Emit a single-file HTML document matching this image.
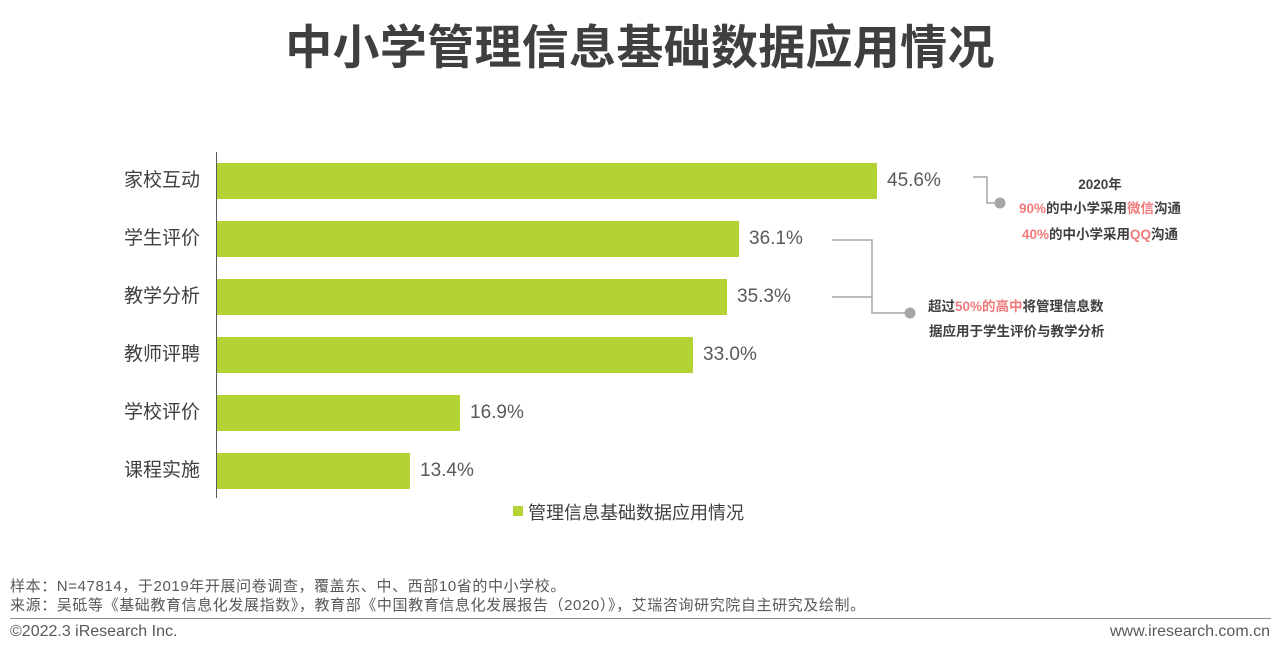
<!DOCTYPE html>
<html><head><meta charset="utf-8"><style>
body{margin:0;width:1280px;height:660px;background:#fff;font-family:"Liberation Sans","Noto Sans CJK SC",sans-serif;position:relative;overflow:hidden;color:#595959}
.a{position:absolute;white-space:nowrap}
.bar{position:absolute;left:217px;height:36px;background:#b3d335}
.cat{position:absolute;right:1080px;font-size:19px;color:#404040;line-height:36px}
.val{position:absolute;font-size:19px;color:#595959;line-height:36px}
.p{color:#f07a7c}
.n{font-size:13.5px;font-weight:bold;color:#404040}
.f{font-size:15px;letter-spacing:0.6px}
</style></head><body>
<div class="a" style="left:0;width:1280px;text-align:center;top:9px;font-size:47px;font-weight:bold;color:#3f3f3f;letter-spacing:0.3px">中小学管理信息基础数据应用情况</div>
<div class="a" style="left:216px;top:152px;width:1px;height:346px;background:#595959"></div>

<div class="bar" style="top:163px;width:660px"></div><div class="cat" style="top:163px">家校互动</div><div class="val" style="top:163px;left:887px">45.6%</div>
<div class="bar" style="top:221px;width:522px"></div><div class="cat" style="top:221px">学生评价</div><div class="val" style="top:221px;left:749px">36.1%</div>
<div class="bar" style="top:279px;width:510px"></div><div class="cat" style="top:279px">教学分析</div><div class="val" style="top:279px;left:737px">35.3%</div>
<div class="bar" style="top:337px;width:476px"></div><div class="cat" style="top:337px">教师评聘</div><div class="val" style="top:337px;left:703px">33.0%</div>
<div class="bar" style="top:395px;width:243px"></div><div class="cat" style="top:395px">学校评价</div><div class="val" style="top:395px;left:470px">16.9%</div>
<div class="bar" style="top:453px;width:193px"></div><div class="cat" style="top:453px">课程实施</div><div class="val" style="top:453px;left:420px">13.4%</div>

<svg class="a" style="left:0;top:0" width="1280" height="660">
<polyline points="973,177 987,177 987,203 1000,203" fill="none" stroke="#a6a6a6" stroke-width="1.5"/>
<circle cx="1000" cy="203" r="5.5" fill="#a6a6a6"/>
<polyline points="832,240 872,240 872,313 910,313" fill="none" stroke="#a6a6a6" stroke-width="1.5"/>
<polyline points="832,297 872,297" fill="none" stroke="#a6a6a6" stroke-width="1.5"/>
<circle cx="910" cy="313" r="5.5" fill="#a6a6a6"/>
</svg>

<div class="a n" style="left:1000px;width:200px;text-align:center;top:173px">2020年</div>
<div class="a n" style="left:1000px;width:200px;text-align:center;top:197px"><span class="p">90%</span>的中小学采用<span class="p">微信</span>沟通</div>
<div class="a n" style="left:1000px;width:200px;text-align:center;top:223px"><span class="p">40%</span>的中小学采用<span class="p">QQ</span>沟通</div>
<div class="a n" style="left:928px;top:295px">超过<span class="p">50%的高中</span>将管理信息数</div>
<div class="a n" style="left:929px;top:320px">据应用于学生评价与教学分析</div>

<div class="a" style="left:513px;top:506px;width:10px;height:10px;background:#b3d335"></div>
<div class="a" style="left:528px;top:499px;font-size:18px;color:#404040">管理信息基础数据应用情况</div>

<div class="a f" style="left:10px;top:575px">样本：N=47814，于2019年开展问卷调查，覆盖东、中、西部10省的中小学校。</div>
<div class="a f" style="left:10px;top:594px">来源：吴砥等《基础教育信息化发展指数》，教育部《中国教育信息化发展报告（2020）》，艾瑞咨询研究院自主研究及绘制。</div>
<div class="a" style="left:10px;top:618px;width:1261px;height:1px;background:#8c8c8c"></div>
<div class="a" style="left:10px;top:623px;font-size:16px">©2022.3 iResearch Inc.</div>
<div class="a" style="right:10px;top:623px;font-size:16px">www.iresearch.com.cn</div>
</body></html>
